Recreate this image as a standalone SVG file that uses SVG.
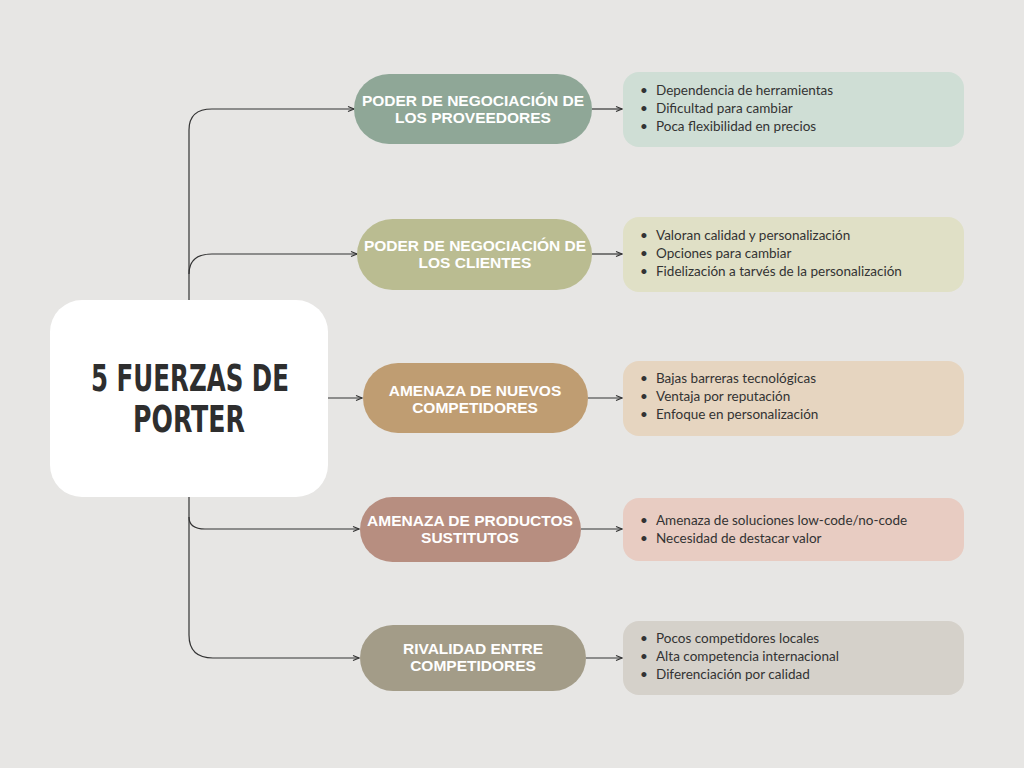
<svg xmlns="http://www.w3.org/2000/svg" width="1024" height="768" viewBox="0 0 1024 768">
<defs>
<marker id="arr" viewBox="0 0 8 8" refX="7" refY="4" markerWidth="8" markerHeight="8" markerUnits="userSpaceOnUse" orient="auto">
<path d="M1,1.5 L7,4 L1,6.5" fill="none" stroke="#333" stroke-width="1.1"/>
</marker>
<style>
.bg{fill:#E7E6E4}
.conn path{fill:none;stroke:#333;stroke-width:1.2;marker-end:url(#arr)}
.conn path.plain{marker-end:none}
.pill text{font-family:"Liberation Sans",Arial,sans-serif;font-weight:bold;font-size:15.5px;fill:#fff;text-anchor:middle}
.box text{font-family:Lato,"Liberation Sans",sans-serif;font-size:13.5px;fill:#333}
.title{font-family:"Liberation Sans Narrow","DejaVu Sans Condensed","Liberation Sans",sans-serif;font-weight:bold;font-size:37px;fill:#2E2E2E;text-anchor:middle}
</style>
</defs>
<rect class="bg" x="0" y="0" width="1024" height="768"/>

<g class="conn" id="connectors">
<path class="plain" d="M189,300 V130"/>
<path d="M189,130 Q189,109 212,109 H354"/>
<path d="M189,274 Q189,254 212,254 H357"/>
<path d="M328,398 H362"/>
<path class="plain" d="M189,497 V635"/>
<path d="M189,517 Q189,529 205,529 H359"/>
<path d="M189,635 Q189,658 213,658 H359"/>
<path d="M592,109 H622"/>
<path d="M592,254 H622"/>
<path d="M588,398 H622"/>
<path d="M581,529 H622"/>
<path d="M586,658 H622"/>
</g>

<g id="central">
<rect x="50" y="300" width="278" height="197" rx="32" fill="#FFFFFF"/>
<text class="title" x="190" y="391" textLength="198" lengthAdjust="spacingAndGlyphs">5 FUERZAS DE</text>
<text class="title" x="189" y="432" textLength="112" lengthAdjust="spacingAndGlyphs">PORTER</text>
</g>

<g id="pill1" class="pill">
<rect x="354" y="74" width="238" height="70" rx="35" fill="#8FA797"/>
<text x="473" y="106">PODER DE NEGOCIACIÓN DE</text>
<text x="473" y="123">LOS PROVEEDORES</text>
</g>
<g id="pill2" class="pill">
<rect x="357" y="219" width="235" height="71" rx="35.5" fill="#BABC91"/>
<text x="475" y="251">PODER DE NEGOCIACIÓN DE</text>
<text x="475" y="268">LOS CLIENTES</text>
</g>
<g id="pill3" class="pill">
<rect x="363" y="363" width="225" height="70" rx="35" fill="#BF9D72"/>
<text x="475" y="396">AMENAZA DE NUEVOS</text>
<text x="475" y="413">COMPETIDORES</text>
</g>
<g id="pill4" class="pill">
<rect x="360" y="497" width="221" height="65" rx="32.5" fill="#B78E80"/>
<text x="470" y="526">AMENAZA DE PRODUCTOS</text>
<text x="470" y="543">SUSTITUTOS</text>
</g>
<g id="pill5" class="pill">
<rect x="360" y="625" width="226" height="66" rx="33" fill="#A39C88"/>
<text x="473" y="654">RIVALIDAD ENTRE</text>
<text x="473" y="671">COMPETIDORES</text>
</g>

<g id="box1" class="box">
<rect x="623" y="72" width="341" height="75" rx="16" fill="#CFDED5"/>
<text x="640" y="95">•</text><text x="656" y="95">Dependencia de herramientas</text>
<text x="640" y="113">•</text><text x="656" y="113">Dificultad para cambiar</text>
<text x="640" y="131">•</text><text x="656" y="131">Poca flexibilidad en precios</text>
</g>
<g id="box2" class="box">
<rect x="623" y="217" width="341" height="75" rx="16" fill="#E0E0C6"/>
<text x="640" y="240">•</text><text x="656" y="240">Valoran calidad y personalización</text>
<text x="640" y="258">•</text><text x="656" y="258">Opciones para cambiar</text>
<text x="640" y="276">•</text><text x="656" y="276">Fidelización a tarvés de la personalización</text>
</g>
<g id="box3" class="box">
<rect x="623" y="361" width="341" height="75" rx="16" fill="#E6D5C0"/>
<text x="640" y="383">•</text><text x="656" y="383">Bajas barreras tecnológicas</text>
<text x="640" y="401">•</text><text x="656" y="401">Ventaja por reputación</text>
<text x="640" y="419">•</text><text x="656" y="419">Enfoque en personalización</text>
</g>
<g id="box4" class="box">
<rect x="623" y="498" width="341" height="63" rx="16" fill="#E8CCC2"/>
<text x="640" y="525">•</text><text x="656" y="525">Amenaza de soluciones low-code/no-code</text>
<text x="640" y="543">•</text><text x="656" y="543">Necesidad de destacar valor</text>
</g>
<g id="box5" class="box">
<rect x="623" y="621" width="341" height="74" rx="16" fill="#D5D1CA"/>
<text x="640" y="643">•</text><text x="656" y="643">Pocos competidores locales</text>
<text x="640" y="661">•</text><text x="656" y="661">Alta competencia internacional</text>
<text x="640" y="679">•</text><text x="656" y="679">Diferenciación por calidad</text>
</g>
</svg>
